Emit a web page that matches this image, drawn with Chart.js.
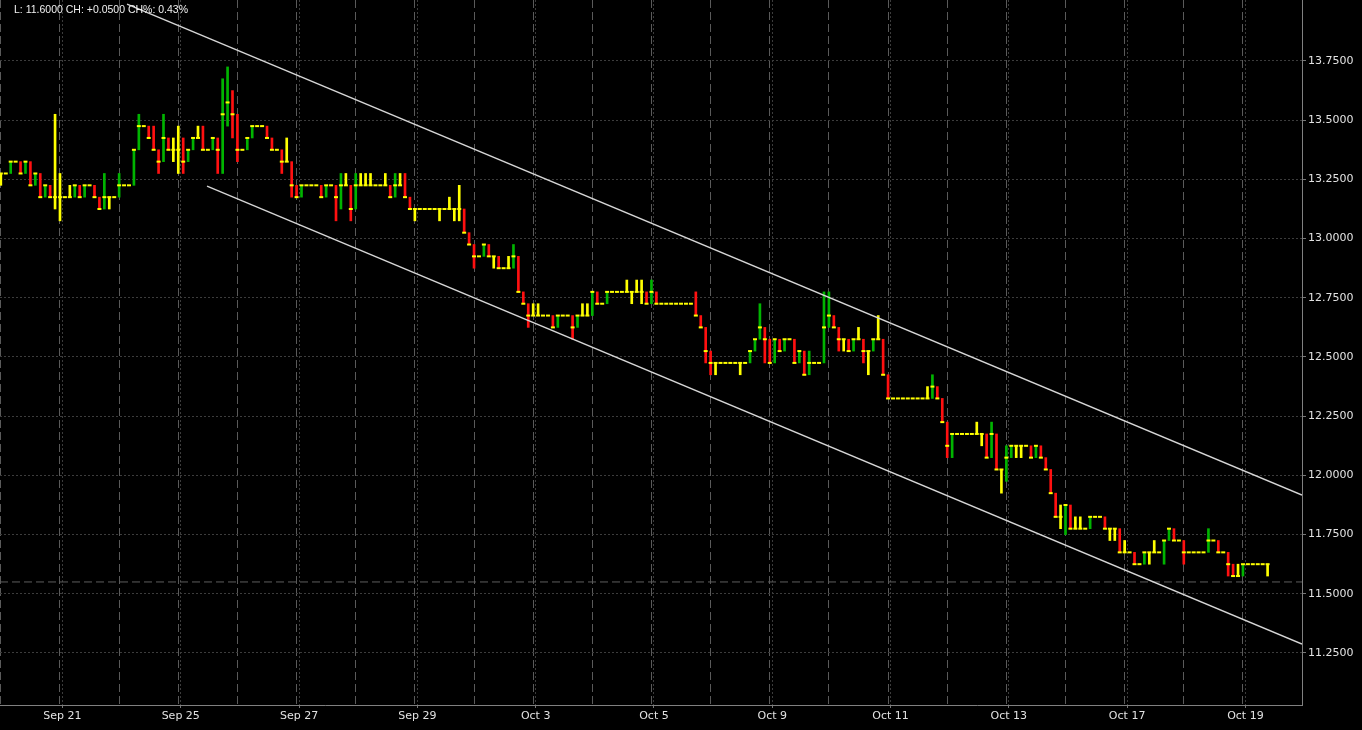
<!DOCTYPE html>
<html>
<head>
<meta charset="utf-8">
<script src="https://cdn.jsdelivr.net/npm/chart.js@4.4.1/dist/chart.umd.min.js"></script>
<style>
    html, body { margin: 0; padding: 0; background: #000; }
    #wrap { position: relative; width: 1362px; height: 730px; }
    #info { position: absolute; left: 14px; top: 3px; color: #f0f0f0; font: 10.5px 'Liberation Sans', sans-serif; white-space: nowrap; }
</style>
</head>
<body>
<div id="wrap">
    <canvas id="priceChart" width="1362" height="730"></canvas>
    <div id="info">L: 11.6000 CH: +0.0500 CH%: 0.43%</div>
</div>
<script>
// ========== DỮ LIỆU ==========
// giá đóng cửa từng nến (12 nến / phiên)
const closes = [
    13.275, 13.275, 13.325, 13.325, 13.275, 13.325, 13.225, 13.275, 13.175, 13.225, 13.175, 13.175,
    13.175, 13.175, 13.175, 13.225, 13.175, 13.225, 13.225, 13.175, 13.125, 13.175, 13.175, 13.175,
    13.225, 13.225, 13.225, 13.375, 13.475, 13.475, 13.425, 13.375, 13.325, 13.425, 13.375, 13.375,
    13.375, 13.325, 13.375, 13.425, 13.425, 13.375, 13.375, 13.425, 13.375, 13.525, 13.575, 13.525,
    13.375, 13.375, 13.425, 13.475, 13.475, 13.475, 13.425, 13.375, 13.375, 13.325, 13.325, 13.225,
    13.175, 13.225, 13.225, 13.225, 13.225, 13.175, 13.225, 13.225, 13.175, 13.225, 13.225, 13.125,
    13.225, 13.225, 13.225, 13.225, 13.225, 13.225, 13.225, 13.175, 13.225, 13.225, 13.175, 13.125,
    13.125, 13.125, 13.125, 13.125, 13.125, 13.125, 13.125, 13.125, 13.125, 13.125, 13.025, 12.975,
    12.925, 12.925, 12.975, 12.925, 12.925, 12.875, 12.875, 12.875, 12.925, 12.775, 12.725, 12.675,
    12.675, 12.675, 12.675, 12.675, 12.625, 12.675, 12.675, 12.675, 12.625, 12.675, 12.675, 12.675,
    12.775, 12.725, 12.725, 12.775, 12.775, 12.775, 12.775, 12.775, 12.775, 12.775, 12.775, 12.725,
    12.775, 12.725, 12.725, 12.725, 12.725, 12.725, 12.725, 12.725, 12.725, 12.675, 12.625, 12.525,
    12.475, 12.475, 12.475, 12.475, 12.475, 12.475, 12.475, 12.475, 12.525, 12.575, 12.625, 12.575,
    12.475, 12.575, 12.525, 12.575, 12.575, 12.475, 12.525, 12.425, 12.475, 12.475, 12.475, 12.625,
    12.675, 12.625, 12.575, 12.575, 12.525, 12.575, 12.575, 12.525, 12.525, 12.575, 12.575, 12.425,
    12.325, 12.325, 12.325, 12.325, 12.325, 12.325, 12.325, 12.325, 12.325, 12.375, 12.325, 12.225,
    12.125, 12.175, 12.175, 12.175, 12.175, 12.175, 12.175, 12.175, 12.075, 12.175, 12.025, 12.025,
    12.075, 12.125, 12.125, 12.125, 12.125, 12.075, 12.125, 12.075, 12.025, 11.925, 11.825, 11.825,
    11.875, 11.775, 11.775, 11.775, 11.775, 11.825, 11.825, 11.825, 11.775, 11.775, 11.775, 11.675,
    11.675, 11.675, 11.625, 11.625, 11.675, 11.675, 11.675, 11.675, 11.725, 11.775, 11.725, 11.725,
    11.675, 11.675, 11.675, 11.675, 11.675, 11.725, 11.725, 11.675, 11.675, 11.625, 11.575, 11.575,
    11.625, 11.625, 11.625, 11.625, 11.625, 11.625
];

// râu trên / râu dưới: [chỉ số nến, giá]
const highWicks = [
    [11, 13.525], [12, 13.275], [14, 13.225], [21, 13.275], [24, 13.275], [28, 13.525], [31, 13.475],
    [33, 13.525], [35, 13.425], [36, 13.475], [37, 13.425], [40, 13.475], [41, 13.475], [45, 13.675],
    [46, 13.725], [47, 13.625], [58, 13.425], [69, 13.275], [70, 13.275], [72, 13.275], [73, 13.275],
    [74, 13.275], [75, 13.275], [78, 13.275], [80, 13.275], [81, 13.275], [82, 13.275], [91, 13.175],
    [93, 13.225], [103, 12.925], [104, 12.975], [108, 12.725], [109, 12.725], [118, 12.725], [119, 12.725],
    [127, 12.825], [129, 12.825], [130, 12.825], [132, 12.825], [141, 12.775], [154, 12.725], [164, 12.525],
    [167, 12.775], [168, 12.775], [174, 12.625], [178, 12.675], [188, 12.375], [189, 12.425], [198, 12.225],
    [201, 12.225], [204, 12.125], [215, 11.875], [218, 11.825], [219, 11.825], [228, 11.725], [234, 11.725],
    [245, 11.775], [251, 11.625]
];
const lowWicks = [
    [0, 13.225], [11, 13.125], [12, 13.075], [22, 13.125], [32, 13.275], [33, 13.325], [35, 13.325],
    [36, 13.275], [37, 13.275], [44, 13.275], [45, 13.275], [46, 13.475], [47, 13.425], [48, 13.325],
    [57, 13.275], [59, 13.175], [68, 13.075], [69, 13.125], [71, 13.075], [84, 13.075], [89, 13.075],
    [92, 13.075], [93, 13.075], [96, 12.875], [100, 12.875], [107, 12.625], [116, 12.575], [128, 12.725],
    [130, 12.725], [143, 12.475], [144, 12.425], [145, 12.425], [150, 12.425], [155, 12.475], [170, 12.525],
    [171, 12.525], [175, 12.475], [176, 12.425], [192, 12.075], [193, 12.075], [199, 12.125], [203, 11.925],
    [204, 11.975], [206, 12.075], [207, 12.075], [215, 11.775], [216, 11.75], [225, 11.725], [226, 11.725],
    [233, 11.625], [236, 11.625], [240, 11.625], [249, 11.575], [257, 11.575]
];

// kênh giá: [chỉ số nến, giá] đầu và cuối
const upperChannel = [[25.6, 13.99], [263.98, 11.917]];
const lowerChannel = [[41.83, 13.222], [263.98, 11.288]];
const currentPrice = 11.55;

// nhãn trục
const dateLabels = ['Sep 21', 'Sep 25', 'Sep 27', 'Sep 29', 'Oct 3', 'Oct 5', 'Oct 9', 'Oct 11', 'Oct 13', 'Oct 17', 'Oct 19'];
const dateLabelBars = [12, 36, 60, 84, 108, 132, 156, 180, 204, 228, 252];
const priceTicks = [11.25, 11.5, 11.75, 12.0, 12.25, 12.5, 12.75, 13.0, 13.25, 13.5, 13.75];

const BARS_PER_DAY = 12;
const X_MIN = -0.17, X_MAX = 263.98;
const Y_MIN = 11.0304, Y_MAX = 14.0076;

// ========== VẼ BIỂU ĐỒ ==========
const hiMap = Object.fromEntries(highWicks);
const loMap = Object.fromEntries(lowWicks);

const barData = [];
const barColors = [];
closes.forEach((c, i) => {
    const prev = i > 0 ? closes[i - 1] : c;
    let hi = Math.max(prev, c), lo = Math.min(prev, c);
    if (hiMap[i] != null) hi = Math.max(hi, hiMap[i]);
    if (loMap[i] != null) lo = Math.min(lo, loMap[i]);
    barData.push({ x: i, y: [lo, hi] });
    barColors.push(c > prev ? '#00b400' : (c < prev ? '#ff1010' : '#ffff00'));
});

// ticks trục x: vạch phiên (gạch dài) + vạch nhãn ngày (chấm)
const xTickItems = [];
for (let k = 0; k * BARS_PER_DAY <= X_MAX; k++) {
    xTickItems.push({ value: k * BARS_PER_DAY, label: '', day: true });
}
dateLabels.forEach((lbl, i) => xTickItems.push({ value: dateLabelBars[i] + 0.5, label: lbl, day: false }));
xTickItems.sort((a, b) => a.value - b.value);

const axisFont = { family: 'DejaVu Sans', size: 11 };

// bỏ phần đệm tự động của trục để vùng vẽ sát mép canvas
function noPadding(s) {
    s.paddingLeft = 0;
    s.paddingRight = 0;
    s.paddingTop = 0;
    s.paddingBottom = 0;
}

const chart = new Chart(document.getElementById('priceChart').getContext('2d'), {
    type: 'bar',
    data: {
        datasets: [
            {
                type: 'line',
                data: upperChannel.map(p => ({ x: p[0], y: p[1] })),
                borderColor: '#d6d6d6',
                borderWidth: 1.4,
                pointRadius: 0,
                order: 0
            },
            {
                type: 'line',
                data: lowerChannel.map(p => ({ x: p[0], y: p[1] })),
                borderColor: '#d6d6d6',
                borderWidth: 1.4,
                pointRadius: 0,
                order: 0
            },
            {
                type: 'line',
                data: closes.map((c, i) => ({ x: i, y: c })),
                showLine: false,
                pointStyle: 'line',
                pointRadius: 2,
                pointHoverRadius: 2,
                pointBorderColor: '#ffff00',
                pointBorderWidth: 2,
                order: 1
            },
            {
                data: barData,
                backgroundColor: barColors,
                borderWidth: 0,
                barThickness: 2,
                grouped: false,
                order: 2
            },
            {
                type: 'line',
                data: [{ x: X_MIN, y: currentPrice }, { x: X_MAX, y: currentPrice }],
                borderColor: '#5e5e5e',
                borderWidth: 1,
                borderDash: [8, 4],
                pointRadius: 0,
                order: 3
            }
        ]
    },
    options: {
        responsive: false,
        animation: false,
        events: [],
        layout: { padding: 0, autoPadding: false },
        plugins: { legend: { display: false }, tooltip: { enabled: false } },
        scales: {
            x: {
                type: 'linear',
                min: X_MIN,
                max: X_MAX,
                offset: false,
                afterBuildTicks: s => { s.ticks = xTickItems.map(t => ({ ...t })); },
                afterFit: s => { s.height = 25; noPadding(s); },
                ticks: {
                    autoSkip: false,
                    maxRotation: 0,
                    color: '#e2e2e2',
                    font: axisFont,
                    padding: 2,
                    callback: (value, index) => xTickItems[index].label
                },
                grid: {
                    offset: false,
                    color: ctx => (ctx.tick && ctx.tick.day) ? '#5a5a5a' : '#3c3c3c',
                    lineWidth: 1,
                    tickLength: 3,
                    tickColor: ctx => (ctx.tick && ctx.tick.day) ? 'rgba(0,0,0,0)' : '#777'
                },
                border: {
                    color: '#808080',
                    dash: ctx => (ctx.tick && ctx.tick.day) ? [8, 4] : [2, 2]
                }
            },
            y: {
                position: 'right',
                min: Y_MIN,
                max: Y_MAX,
                afterBuildTicks: s => { s.ticks = priceTicks.map(v => ({ value: v })); },
                afterFit: s => { s.width = 60; noPadding(s); },
                ticks: {
                    color: '#e2e2e2',
                    font: axisFont,
                    padding: 2,
                    callback: value => value.toFixed(4)
                },
                grid: { color: '#3c3c3c', lineWidth: 1, tickLength: 4, tickColor: '#777' },
                border: { color: '#808080', dash: [2, 2] }
            }
        }
    }
});
</script>
</body>
</html>
